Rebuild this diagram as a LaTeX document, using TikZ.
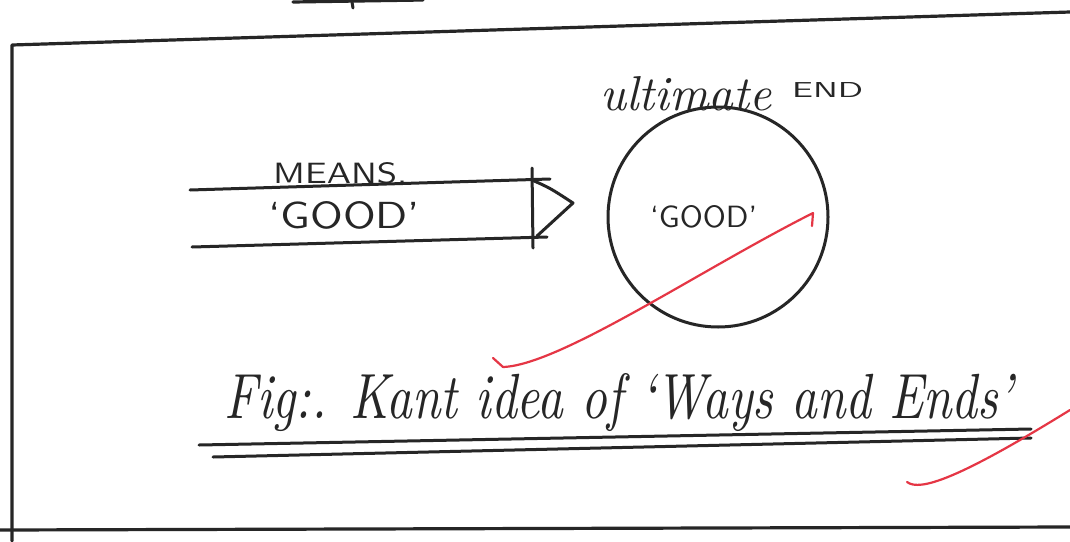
\documentclass[tikz,border=0pt]{standalone}
\usepackage{graphicx}
\definecolor{inkc}{HTML}{262626}
\definecolor{penred}{HTML}{E53645}
\begin{document}
\begin{tikzpicture}[x=1pt,y=-1pt,
  ink/.style={draw=inkc, line width=3pt, line cap=round, line join=round},
  frameline/.style={ink, line width=3.2pt},
  redpen/.style={draw=penred, line width=2.2pt, line cap=round, line join=round},
  lbl/.style={inner sep=0pt, text=inkc, anchor=base west}]
\useasboundingbox (0,0) rectangle (1070,541);
\fill[white] (0,0) rectangle (1070,541);

% page frame
\draw[frameline] (1070,12) -- (12,45) -- (12,541);
\draw[frameline] (0,530) -- (1070,527);
\draw[frameline] (293,2) -- (423,0);
\draw[ink] (352,2) -- (353,8);

% block arrow for the means
\draw[ink] (190,190) -- (550,179);
\draw[ink] (192,247) -- (547,237);
\draw[ink] (532,168) -- (533,248);
\draw[ink] (532,180) .. controls (550,188) .. (573,203) -- (537,236);

% the end
\node[circle, draw=inkc, line width=3pt, minimum size=220pt, inner sep=0pt] (endc) at (718,217) {};

% labels
\node[lbl] (means) at (273,183) {\resizebox{134pt}{21pt}{\sffamily MEANS.}};
\node[lbl] (goodmeans) at (268,228) {\resizebox{152pt}{27pt}{\sffamily `GOOD'}};
\node[lbl] (goodend) at (650,227) {\resizebox{107pt}{22pt}{\sffamily `GOOD'}};
\node[lbl] (ult) at (600,110) {\resizebox{171pt}{34pt}{\itshape ultimate}};
\node[lbl] (endlbl) at (792,97) {\resizebox{71pt}{15pt}{\sffamily END}};
\node[lbl] (caption) at (224,418) {\resizebox{789pt}{45pt}{\itshape Fig:. Kant idea of `Ways and Ends'}};

% double underline of the caption
\draw[ink] (199,445) -- (1031,429);
\draw[ink] (213,457) -- (1031,438);

% red pen ticks
\draw[redpen] (493,358) -- (503,367) .. controls (560,365) and (700,270) .. (813,213) -- (812,226);
\draw[redpen] (907,482) .. controls (920,492) and (960,478) .. (1070,410);
\end{tikzpicture}
\end{document}
